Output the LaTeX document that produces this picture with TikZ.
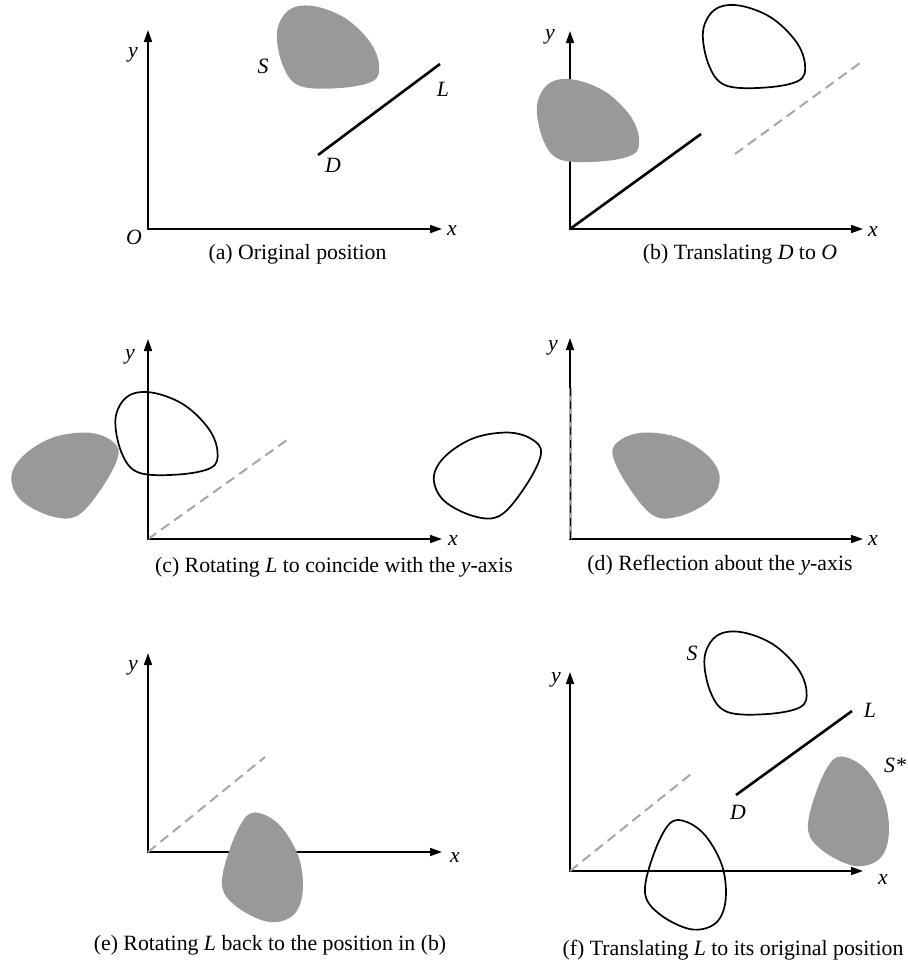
\documentclass[tikz,border=0pt]{standalone}
\usepackage{fontspec}
\setmainfont{Liberation Serif}
\usetikzlibrary{arrows.meta}

% outline of the shape S, centred on its bounding box (pixel units, y down)
\newcommand{\blobpath}{plot[smooth cycle, tension=0.6] coordinates {(-50.5,-15) (-38.5,-37) (-14.5,-41) (17.5,-29) (42.5,-5) (51.5,18) (45.5,34) (12.5,41) (-27.5,39) (-44.5,19)}}

\begin{document}
\begin{tikzpicture}[
    x=0.5pt, y=-0.5pt,
    every node/.style={font=\fontsize{10.9}{13}\selectfont, inner sep=0pt},
    lbl/.style={font=\fontsize{10.9}{13}\selectfont\itshape},
    axis/.style={arrows={Triangle[length=6pt,width=4pt]-Triangle[length=6pt,width=4pt]}, line width=0.8pt},
    segL/.style={line width=1.3pt},
    oldL/.style={draw=black!35, line width=1pt, dash pattern=on 5pt off 3pt},
    solidblob/.style={fill=black!40},
    hollowblob/.style={draw, line width=0.85pt}
]
\useasboundingbox (0,0) rectangle (907,964);

% (a) original position
\coordinate (oa) at (148,229);
\coordinate (ya) at (148,30);
\coordinate (xa) at (442,229);
\coordinate (da) at (318,155);
\coordinate (la) at (440,64);
\draw[axis] (ya) -- (oa) -- (xa);
\draw[segL] (da) -- (la);
\begin{scope}[shift={(327.5,47)}]
  \fill[solidblob] \blobpath;
\end{scope}
\node[lbl] (ylaba) at (133,55) {y};
\node[lbl] (xlaba) at (452,230) {x};
\node[lbl] (olaba) at (134,237) {O};
\node[lbl] (slaba) at (263,66) {S};
\node[lbl] (llaba) at (443,89) {L};
\node[lbl] (dlaba) at (333,165) {D};
\node (capa) at (297.5,254) {(a) Original position};

% (b) translating D to O
\coordinate (ob) at (570,229);
\coordinate (yb) at (570,31);
\coordinate (xb) at (863,229);
\coordinate (lb) at (701,134);
\coordinate (dbo) at (735,154);
\coordinate (lbo) at (860,63);
\draw[axis] (yb) -- (ob) -- (xb);
\draw[oldL] (dbo) -- (lbo);
\draw[segL] (ob) -- (lb);
\begin{scope}[shift={(753.5,46.5)}]
  \draw[hollowblob] \blobpath;
\end{scope}
\begin{scope}[shift={(587.5,120.5)}]
  \fill[solidblob] \blobpath;
\end{scope}
\node[lbl] (ylabb) at (550,37) {y};
\node[lbl] (xlabb) at (873,231) {x};
\node (capb) at (740,254) {(b) Translating \textit{D} to \textit{O}};

% (c) rotating L onto the y-axis
\coordinate (oc) at (148,539);
\coordinate (yc) at (148,339);
\coordinate (xc) at (442,539);
\coordinate (lc) at (148,393);
\coordinate (lco) at (287,440);
\draw[axis] (yc) -- (oc) -- (xc);
\draw[oldL] (oc) -- (lco);
\begin{scope}[shift={(166,433.5)}]
  \draw[hollowblob] \blobpath;
\end{scope}
\begin{scope}[shift={(64,469.5)}, rotate=53]
  \fill[solidblob] \blobpath;
\end{scope}
\draw[segL] (oc) -- (lc);
\node[lbl] (ylabc) at (130,357) {y};
\node[lbl] (xlabc) at (453,540) {x};
\node (capc) at (334,567) {(c) Rotating \textit{L} to coincide with the \textit{y}-axis};

% (d) reflection about the y-axis
\coordinate (od) at (570,539);
\coordinate (yd) at (570,338);
\coordinate (xd) at (863,539);
\coordinate (ld) at (570,388);
\draw[axis] (yd) -- (od) -- (xd);
\draw[draw=black!35, line width=1.5pt] (od) -- (ld);
\draw[line width=0.5pt, dash pattern=on 4pt off 2.5pt] ([xshift=0.3pt]od) -- ([xshift=0.3pt]ld);
\begin{scope}[shift={(486.5,469.5)}, rotate=53]
  \draw[hollowblob] \blobpath;
\end{scope}
\begin{scope}[shift={(667,469.5)}, rotate=-53, xscale=-1]
  \fill[solidblob] \blobpath;
\end{scope}
\node[lbl] (ylabd) at (553,348) {y};
\node[lbl] (xlabd) at (873,540) {x};
\node (capd) at (720,565) {(d) Reflection about the \textit{y}-axis};

% (e) rotating L back
\coordinate (oe) at (148,852);
\coordinate (ye) at (148,653);
\coordinate (xe) at (442,852);
\coordinate (leo) at (265,757);
\draw[axis] (ye) -- (oe) -- (xe);
\draw[oldL] (oe) -- (leo);
\begin{scope}[shift={(267,869)}, rotate=-106, xscale=-1]
  \fill[solidblob] \blobpath;
\end{scope}
\node[lbl] (ylabe) at (133,668) {y};
\node[lbl] (xlabe) at (455,857) {x};
\node (cape) at (270,945) {(e) Rotating \textit{L} back to the position in (b)};

% (f) translating L back
\coordinate (of) at (570,871);
\coordinate (yf) at (570,672);
\coordinate (xf) at (863,871);
\coordinate (lfo) at (691,774);
\coordinate (df) at (736,795);
\coordinate (lf) at (852,711);
\begin{scope}[shift={(853,813)}, rotate=-106, xscale=-1]
  \fill[solidblob] \blobpath;
\end{scope}
\draw[axis] (yf) -- (of) -- (xf);
\draw[oldL] (of) -- (lfo);
\draw[segL] (df) -- (lf);
\begin{scope}[shift={(755,673)}]
  \draw[hollowblob] \blobpath;
\end{scope}
\begin{scope}[shift={(690,876.5)}, rotate=-106, xscale=-1]
  \draw[hollowblob] \blobpath;
\end{scope}
\node[lbl] (ylabf) at (556,680) {y};
\node[lbl] (xlabf) at (883,879) {x};
\node[lbl] (slabf) at (692,653) {S};
\node[lbl] (llabf) at (870,710) {L};
\node[lbl] (dlabf) at (738,812) {D};
\node[lbl] (sstarf) at (895,765) {S*};
\node (capf) at (733,950) {(f) Translating \textit{L} to its original position};
\end{tikzpicture}
\end{document}
